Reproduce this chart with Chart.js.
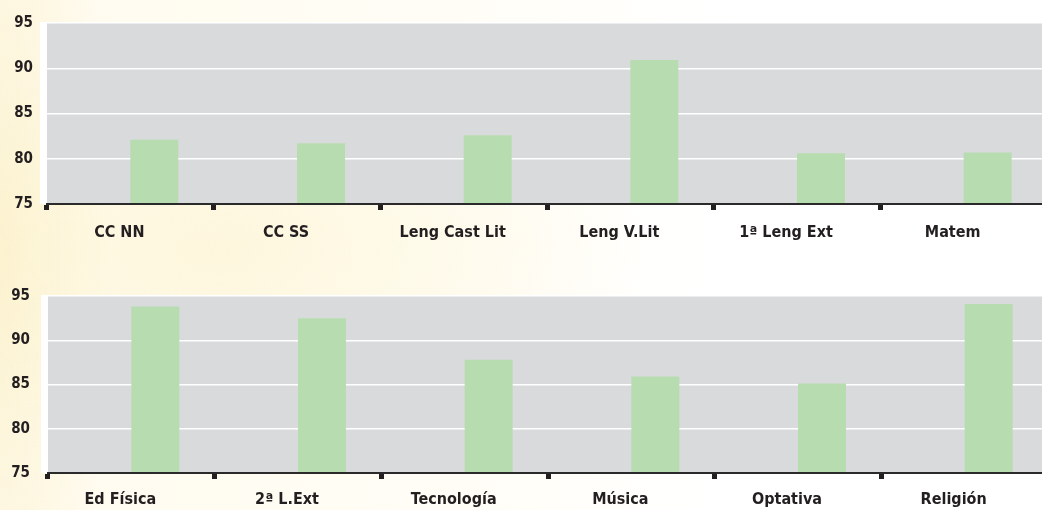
<!DOCTYPE html>
<html>
<head>
<meta charset="utf-8">
<script src="https://cdn.jsdelivr.net/npm/chart.js@4/dist/chart.umd.min.js"></script>
<style>
  html, body { margin: 0; padding: 0; width: 1042px; height: 510px; overflow: hidden; }
  body {
    background:
      radial-gradient(ellipse 420px 200px at 220px 250px, rgba(252,242,200,0.5), rgba(255,250,232,0) 100%),
      radial-gradient(ellipse 110px 520px at 0px 255px, rgba(250,238,196,0.65), rgba(255,250,232,0) 100%),
      linear-gradient(to right, #fffbee 0%, #fffdf6 45%, #ffffff 70%);
  }
  canvas { position: absolute; left: 0; }
  #top { top: 0; }
  #bottom { top: 250px; }
</style>
</head>
<body>
<canvas id="top" width="1050" height="250"></canvas>
<canvas id="bottom" width="1050" height="260"></canvas>
<script>
// ---- data ----
const categoriesTop = ['CC NN', 'CC SS', 'Leng Cast Lit', 'Leng V.Lit', '1ª Leng Ext', 'Matem'];
const valuesTop = [82.1, 81.7, 82.6, 90.9, 80.6, 80.7];
const categoriesBottom = ['Ed Física', '2ª L.Ext', 'Tecnología', 'Música', 'Optativa', 'Religión'];
const valuesBottom = [93.8, 92.5, 87.8, 85.9, 85.1, 94.1];
const yMin = 75;
const yMax = 95;
const yStep = 5;

const panelBg = {
  id: 'panelBg',
  beforeDraw(chart) {
    const { ctx, chartArea: a } = chart;
    ctx.save();
    ctx.fillStyle = '#ffffff';
    ctx.fillRect(a.left - 7, a.top - 1, a.right - a.left + 7, a.bottom - a.top + 1);
    ctx.fillStyle = '#d9dadc';
    ctx.fillRect(a.left, a.top, a.right - a.left, a.bottom - a.top);
    ctx.restore();
  }
};

function makeChart(id, labels, values, opts) {
  return new Chart(document.getElementById(id), {
    type: 'bar',
    data: {
      labels: labels,
      datasets: [
        { data: labels.map(() => null), backgroundColor: 'rgba(0,0,0,0)' },
        { data: values, backgroundColor: '#b7dcb0', borderWidth: 0 }
      ]
    },
    options: {
      responsive: false,
      animation: false,
      devicePixelRatio: 1,
      categoryPercentage: 0.576,
      barPercentage: 1.0,
      layout: { padding: { top: opts.padTop, right: opts.padRight, left: 0, bottom: 0 } },
      plugins: { legend: { display: false }, tooltip: { enabled: false } },
      scales: {
        x: {
          grid: {
            drawOnChartArea: false,
            drawTicks: true,
            tickLength: 6,
            tickWidth: 5,
            tickColor: '#231f20',
            offset: true
          },
          border: { display: true, color: '#2a2a2a', width: 2, z: 1 },
          ticks: {
            color: '#231f20',
            padding: opts.xPad,
            labelOffset: -11,
            maxRotation: 0,
            autoSkip: false,
            font: { family: '"DejaVu Sans Condensed", "DejaVu Sans", sans-serif', size: 16, weight: 'bold' }
          },
          afterFit: (s) => { s.height = opts.xHeight; }
        },
        y: {
          min: yMin,
          max: yMax,
          grid: { color: '#ffffff', lineWidth: 1.5, drawTicks: false },
          border: { display: false },
          ticks: {
            stepSize: yStep,
            color: '#231f20',
            padding: opts.yPad,
            font: { family: '"DejaVu Sans Condensed", "DejaVu Sans", sans-serif', size: 15, weight: 'bold' }
          },
          afterFit: (s) => { s.width = opts.yWidth; }
        }
      }
    },
    plugins: [panelBg]
  });
}

makeChart('top', categoriesTop, valuesTop, { padTop: 23, padRight: 3, xHeight: 46, xPad: 13, yWidth: 47, yPad: 14 });
makeChart('bottom', categoriesBottom, valuesBottom, { padTop: 46, padRight: 2, xHeight: 37, xPad: 11, yWidth: 48, yPad: 18 });
</script>
</body>
</html>
